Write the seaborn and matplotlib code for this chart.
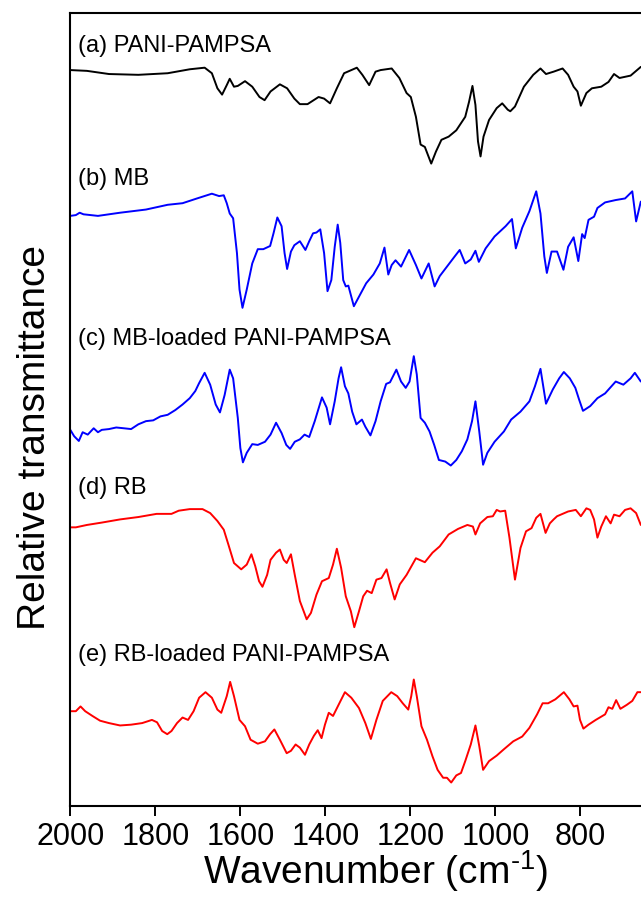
import matplotlib
matplotlib.use('Agg')
import matplotlib.pyplot as plt
import seaborn as sns

# FTIR spectra: wavenumber (cm-1) and stacked relative transmittance (a.u.)
wn_a = [2000, 1961, 1909, 1840, 1771, 1719, 1684, 1667, 1654, 1643, 1632, 1625, 1615, 1606, 1589,
        1572, 1555, 1543, 1529, 1507, 1490, 1473, 1460, 1442, 1416, 1403, 1389, 1373, 1356, 1326,
        1313, 1297, 1282, 1270, 1244, 1226, 1209, 1199, 1187, 1176, 1166, 1151, 1140, 1127, 1110,
        1092, 1071, 1062, 1054, 1047, 1041, 1035, 1028, 1015, 997, 984, 971, 965, 954, 933,
        911, 894, 881, 863, 842, 829, 816, 807, 799, 786, 773, 751, 734, 721, 708, 682, 658]
t_a = [92.8, 92.7, 92.3, 92.2, 92.4, 92.9, 93.1, 92.4, 90.5, 89.7, 90.9, 91.7, 90.7, 90.8, 91.4,
       90.7, 89.4, 89.0, 90.1, 91.0, 90.5, 89.2, 88.5, 88.5, 89.4, 89.2, 88.6, 90.5, 92.4, 93.1,
       92.2, 90.9, 92.6, 92.8, 93.0, 91.8, 89.9, 89.4, 86.9, 83.4, 83.1, 81.0, 82.5, 84.0, 84.4,
       85.2, 86.9, 88.8, 90.8, 88.4, 83.8, 81.9, 84.4, 86.5, 88.0, 88.6, 87.8, 87.6, 88.2, 90.7,
       92.2, 93.0, 92.3, 92.6, 93.0, 92.2, 90.7, 90.1, 88.3, 89.9, 90.5, 90.7, 91.3, 92.3, 91.8, 92.1, 93.2]

wn_b = [2000, 1987, 1978, 1969, 1935, 1883, 1822, 1771, 1736, 1702, 1667, 1650, 1639, 1632, 1625,
        1617, 1608, 1602, 1595, 1585, 1572, 1559, 1546, 1530, 1522, 1513, 1503, 1496, 1490, 1481,
        1473, 1460, 1447, 1438, 1429, 1421, 1412, 1403, 1395, 1386, 1378, 1371, 1365, 1358, 1352,
        1346, 1333, 1321, 1304, 1287, 1272, 1261, 1252, 1244, 1235, 1222, 1203, 1187, 1174, 1157,
        1143, 1131, 1114, 1097, 1084, 1071, 1058, 1047, 1039, 1023, 1002, 976, 961, 952, 937,
        920, 904, 894, 885, 879, 868, 855, 840, 829, 816, 805, 796, 790, 781, 768,
        760, 742, 717, 695, 678, 669, 658]
t_b = [74.4, 74.5, 74.8, 74.6, 74.4, 74.8, 75.2, 75.8, 76.0, 76.6, 77.2, 76.9, 77.0, 76.0, 74.7,
       74.1, 69.7, 65.1, 62.8, 65.1, 68.4, 70.2, 70.2, 70.6, 72.2, 74.2, 73.1, 69.7, 67.7, 69.9,
       70.7, 71.2, 70.1, 71.2, 72.2, 72.3, 72.7, 69.7, 64.9, 66.3, 70.5, 73.3, 71.0, 66.3, 65.5,
       65.6, 63.0, 64.2, 65.9, 67.0, 68.4, 70.4, 67.0, 68.2, 68.8, 68.0, 70.1, 68.2, 66.5, 68.4,
       65.5, 66.8, 68.0, 69.2, 70.1, 68.4, 68.9, 70.0, 68.6, 70.3, 71.8, 73.1, 74.0, 70.3, 72.9,
       75.0, 77.5, 74.7, 69.3, 67.2, 69.9, 69.9, 67.6, 70.5, 71.7, 68.7, 72.1, 71.6, 73.9, 74.3,
       75.4, 76.1, 76.4, 76.6, 77.5, 73.7, 76.2]

wn_c = [2000, 1991, 1980, 1971, 1959, 1945, 1935, 1926, 1909, 1892, 1874, 1857, 1840, 1822, 1805,
        1788, 1771, 1753, 1736, 1719, 1706, 1697, 1684, 1671, 1658, 1648, 1637, 1625, 1617, 1606,
        1600, 1594, 1585, 1572, 1559, 1542, 1529, 1516, 1503, 1492, 1483, 1472, 1460, 1449, 1438,
        1425, 1408, 1397, 1389, 1378, 1369, 1363, 1354, 1346, 1337, 1327, 1314, 1306, 1294, 1282,
        1270, 1257, 1248, 1233, 1222, 1211, 1202, 1192, 1185, 1176, 1166, 1155, 1144, 1133, 1118,
        1105, 1092, 1079, 1066, 1055, 1047, 1038, 1029, 1019, 1002, 980, 963, 941, 920, 907,
        894, 881, 865, 850, 839, 825, 812, 803, 794, 777, 760, 742, 717, 699, 682, 672, 658]
t_c = [47.4, 46.6, 46.0, 47.1, 46.8, 47.6, 47.1, 47.4, 47.5, 47.7, 47.6, 47.5, 48.1, 48.5, 48.6,
       49.1, 49.3, 49.9, 50.6, 51.4, 52.3, 53.3, 54.6, 53.1, 50.6, 49.6, 51.8, 55.0, 53.9, 48.9,
       45.1, 43.3, 44.5, 45.6, 45.5, 45.9, 46.8, 48.3, 47.0, 45.5, 45.0, 45.9, 46.2, 46.8, 46.5,
       48.5, 51.5, 50.2, 48.1, 51.0, 53.9, 55.3, 52.9, 52.0, 49.7, 48.1, 48.7, 47.8, 46.7, 48.5,
       51.0, 53.2, 53.4, 55.0, 53.5, 52.7, 53.5, 56.7, 54.4, 48.9, 48.3, 47.2, 45.5, 43.6, 43.4,
       42.9, 43.6, 44.7, 46.2, 48.5, 51.0, 47.2, 43.0, 44.5, 45.9, 47.2, 48.7, 49.7, 51.0, 52.9,
       55.1, 50.7, 52.5, 53.9, 54.7, 53.9, 52.7, 51.2, 49.8, 50.4, 51.4, 52.0, 53.5, 53.1, 53.9, 54.6, 53.5]

wn_d = [2000, 1987, 1961, 1926, 1883, 1840, 1797, 1762, 1745, 1719, 1689, 1671, 1654, 1639, 1628,
        1615, 1598, 1585, 1574, 1565, 1556, 1548, 1537, 1529, 1516, 1507, 1498, 1491, 1481, 1472,
        1460, 1444, 1434, 1421, 1408, 1392, 1382, 1373, 1363, 1352, 1340, 1332, 1321, 1311, 1302,
        1291, 1280, 1268, 1256, 1248, 1237, 1225, 1209, 1187, 1166, 1148, 1131, 1110, 1088, 1066,
        1053, 1047, 1036, 1019, 1006, 997, 989, 977, 967, 954, 941, 928, 915, 904, 894,
        882, 872, 863, 855, 829, 811, 799, 786, 777, 768, 760, 751, 740, 729, 721,
        708, 695, 682, 669, 658]
t_d = [35.1, 35.1, 35.4, 35.7, 36.1, 36.4, 36.8, 36.8, 37.2, 37.4, 37.4, 36.9, 35.9, 34.8, 32.9,
       30.6, 29.8, 30.4, 31.7, 30.2, 28.3, 27.6, 29.1, 31.0, 31.9, 32.3, 31.0, 30.6, 31.7, 29.1,
       25.8, 23.5, 24.3, 26.6, 28.3, 28.7, 30.4, 32.4, 30.0, 26.4, 24.5, 22.5, 24.5, 26.4, 27.1,
       26.8, 28.5, 28.7, 29.8, 28.1, 26.0, 27.9, 29.1, 31.2, 30.7, 31.9, 32.7, 34.2, 34.9, 35.4,
       35.2, 34.2, 35.6, 36.4, 36.5, 37.3, 37.1, 37.2, 33.8, 28.5, 32.5, 34.6, 35.0, 36.3, 36.8,
       34.4, 35.6, 36.1, 36.5, 37.1, 37.3, 36.5, 37.5, 37.3, 36.1, 33.8, 35.2, 36.5, 35.6, 36.7,
       36.5, 37.3, 37.5, 36.9, 35.4]

wn_e = [2000, 1987, 1976, 1965, 1948, 1930, 1909, 1883, 1857, 1831, 1808, 1796, 1784, 1772, 1762,
        1749, 1736, 1723, 1710, 1697, 1682, 1667, 1654, 1645, 1632, 1624, 1615, 1602, 1589, 1576,
        1559, 1542, 1530, 1520, 1507, 1491, 1481, 1470, 1460, 1448, 1438, 1427, 1418, 1409, 1401,
        1392, 1382, 1369, 1354, 1339, 1321, 1306, 1293, 1280, 1265, 1245, 1231, 1218, 1205, 1198,
        1192, 1185, 1174, 1161, 1148, 1136, 1123, 1114, 1104, 1092, 1081, 1071, 1058, 1047, 1038,
        1029, 1015, 997, 980, 958, 937, 920, 902, 889, 876, 859, 839, 826, 816, 807,
        801, 793, 781, 764, 742, 734, 725, 716, 706, 691, 678, 666, 658]
t_e = [11.9, 11.9, 12.5, 11.9, 11.3, 10.7, 10.4, 10.1, 10.2, 10.4, 10.8, 10.5, 9.4, 9.0, 9.4,
       10.4, 11.1, 10.8, 11.9, 13.6, 14.3, 13.6, 12.1, 11.7, 13.8, 15.6, 13.8, 10.8, 10.0, 8.3,
       7.8, 8.1, 9.0, 9.6, 8.3, 6.6, 6.9, 7.7, 7.3, 6.4, 7.7, 8.8, 9.5, 8.5, 10.2,
       11.7, 11.3, 12.7, 14.3, 13.6, 12.3, 10.4, 8.4, 10.8, 13.2, 14.3, 13.8, 12.9, 12.1, 13.8,
       15.9, 13.8, 10.0, 8.3, 6.2, 4.5, 3.5, 3.5, 2.9, 3.8, 4.1, 5.6, 7.7, 10.1, 7.5,
       4.5, 5.6, 6.3, 7.1, 8.1, 8.7, 9.8, 11.5, 12.9, 12.9, 13.4, 14.3, 13.4, 12.5, 12.6,
       10.8, 9.7, 10.2, 10.8, 11.5, 12.4, 12.2, 13.3, 12.2, 12.7, 13.2, 14.3, 14.3]

labels = ['(a) PANI-PAMPSA', '(b) MB', '(c) MB-loaded PANI-PAMPSA', '(d) RB', '(e) RB-loaded PANI-PAMPSA']
label_y = [95.1, 78.3, 58.1, 39.3, 18.2]
colors = ['black', 'blue', 'blue', 'red', 'red']
spectra = [(wn_a, t_a), (wn_b, t_b), (wn_c, t_c), (wn_d, t_d), (wn_e, t_e)]
xticks = [2000, 1800, 1600, 1400, 1200, 1000, 800]

sns.set_style('ticks')
plt.rcParams['font.family'] = ['Liberation Sans', 'DejaVu Sans']
plt.rcParams['text.color'] = 'black'
plt.rcParams['axes.labelcolor'] = 'black'
plt.rcParams['mathtext.fontset'] = 'custom'
plt.rcParams['mathtext.rm'] = 'Liberation Sans'

fig = plt.figure(figsize=(6.41, 8.97), dpi=100)
# the original is cropped on the right, so the axes run past the figure edge
ax = fig.add_axes([0.1097, 0.102, 0.951, 0.8835])

for (wn, t), c in zip(spectra, colors):
    sns.lineplot(x=wn, y=t, color=c, linewidth=1.4, estimator=None, sort=False, ax=ax)

for lab, y in zip(labels, label_y):
    ax.text(1983, y, lab, fontsize=17, ha='left', va='baseline', color='black')

ax.set_xlim(2000, 566)
ax.set_ylim(0, 100)
ax.set_xticks(xticks)
ax.set_yticks([])
ax.tick_params(axis='x', direction='out', length=7, width=1.4, labelsize=22, pad=5, colors='black')
for s in ax.spines.values():
    s.set_linewidth(1.5)
    s.set_color('black')

ax.set_xlabel('Wavenumber (cm$^{\\text{-1}}$)', fontsize=28, labelpad=-3)
ax.set_ylabel('Relative transmittance', fontsize=28)
ax.yaxis.set_label_coords(-0.028, 0.464)

fig.savefig('out.png', dpi=100)
